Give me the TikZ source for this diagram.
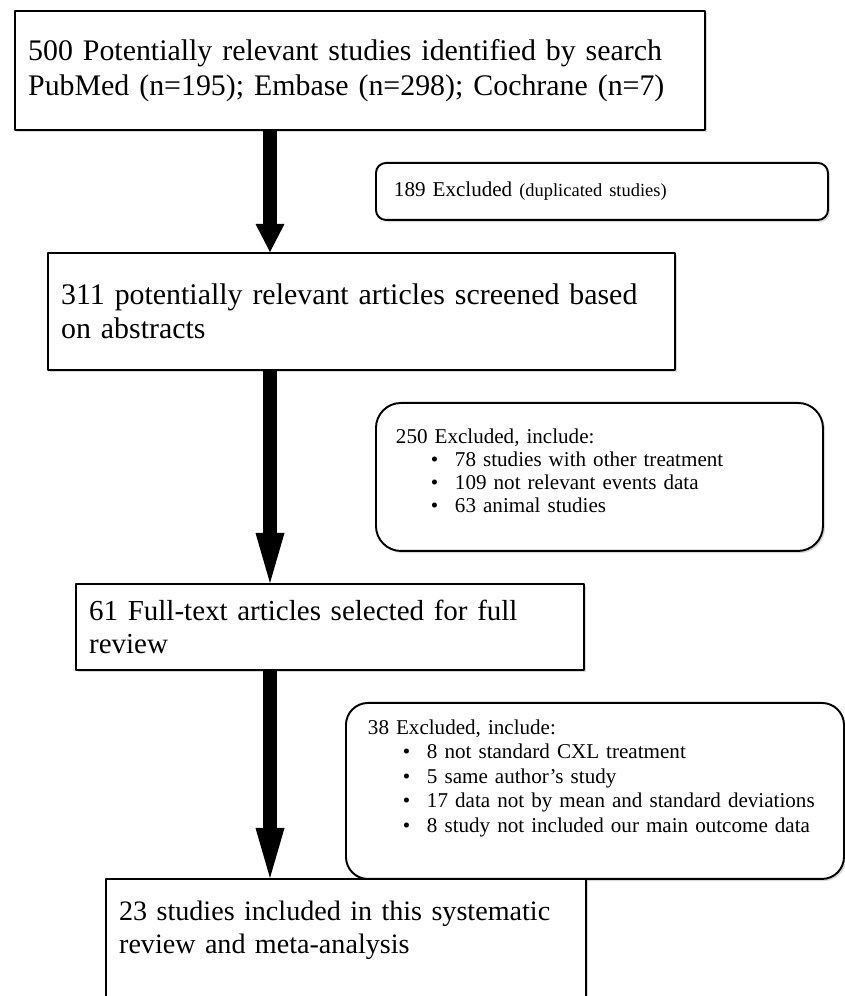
\documentclass[tikz,border=0pt]{standalone}
\usepackage{fontspec}
\setmainfont{Liberation Serif}
\usetikzlibrary{arrows.meta,shadows}
\newcommand{\bigfont}{\fontsize{17}{19.5}\selectfont}
\newcommand{\smallfont}{\fontsize{12}{13}\selectfont}
\newcommand{\itm}{\hspace*{1.65em}\textbullet\hspace{0.8em}}
\newcommand{\lift}[1]{\rule[-#1]{0pt}{#1}}
\begin{document}
\begin{tikzpicture}[line join=round,
		flowbox/.style={draw,line width=1.3pt,fill=white,anchor=north west,align=left,inner xsep=0.26cm,font=\bigfont,drop shadow={shadow xshift=1.2pt,shadow yshift=-1.2pt,fill=black!30}},
		exbox/.style={draw,line width=1.1pt,fill=white,anchor=north west,align=left,font=\smallfont,drop shadow={shadow xshift=1.2pt,shadow yshift=-1.2pt,fill=black!30}},
		flowarrow/.style={line width=0.28cm,-{Triangle[width=0.58cm,length=1cm,line width=0pt]}}]
			\useasboundingbox (0,0) rectangle (16.88,19.92);
			\node[exbox,rounded corners=0.2cm,text width=8.32cm,inner xsep=0.36cm,minimum height=1.14cm] (dup) at (7.50,16.68) {189 Excluded {\fontsize{10.5}{12}\selectfont(duplicated studies)}};
			\node[exbox,rounded corners=0.5cm,text width=8.14cm,inner xsep=0.4cm,minimum height=2.96cm] (abs) at (7.50,11.88) {250 Excluded, include:\\\itm 78 studies with other treatment\\\itm 109 not relevant events data\\\itm 63 animal studies\lift{7pt}};
			\node[exbox,rounded corners=0.44cm,text width=9.08cm,inner xsep=0.44cm,minimum height=3.52cm,font=\fontsize{12}{14}\selectfont] (ft) at (6.90,5.88) {38 Excluded, include:\\\itm 8 not standard CXL treatment\\\itm 5 same author's study\\\itm 17 data not by mean and standard deviations\\\itm 8 study not included our main outcome data\lift{17pt}};
			\node[flowbox,text width=13.28cm,minimum height=2.38cm] (search) at (0.28,19.72) {500 Potentially relevant studies identified by search\\PubMed (n=195); Embase (n=298); Cochrane (n=7)};
			\node[flowbox,text width=12.02cm,minimum height=2.34cm] (screen) at (0.94,14.88) {311 potentially relevant articles screened based\\on abstracts};
			\node[flowbox,text width=9.64cm,minimum height=1.72cm,font=\fontsize{16.5}{19}\selectfont] (full) at (1.50,8.26) {61 Full-text articles selected for full\\review};
			\node[flowbox,text width=9.08cm,inner ysep=0.4cm,text height=12pt,text depth=2.6cm,font=\fontsize{16}{19}\selectfont] (incl) at (2.10,2.36) {23 studies included in this systematic\\review and meta-analysis};
			\coordinate (ax) at (5.40,0);
			\draw[flowarrow,-{Triangle[width=0.58cm,length=0.56cm,line width=0pt]}] (search.south -| ax) -- (screen.north -| ax);
			\draw[flowarrow] (screen.south -| ax) -- (full.north -| ax);
			\draw[flowarrow] (full.south -| ax) -- (incl.north -| ax);
		\end{tikzpicture}
\end{document}
